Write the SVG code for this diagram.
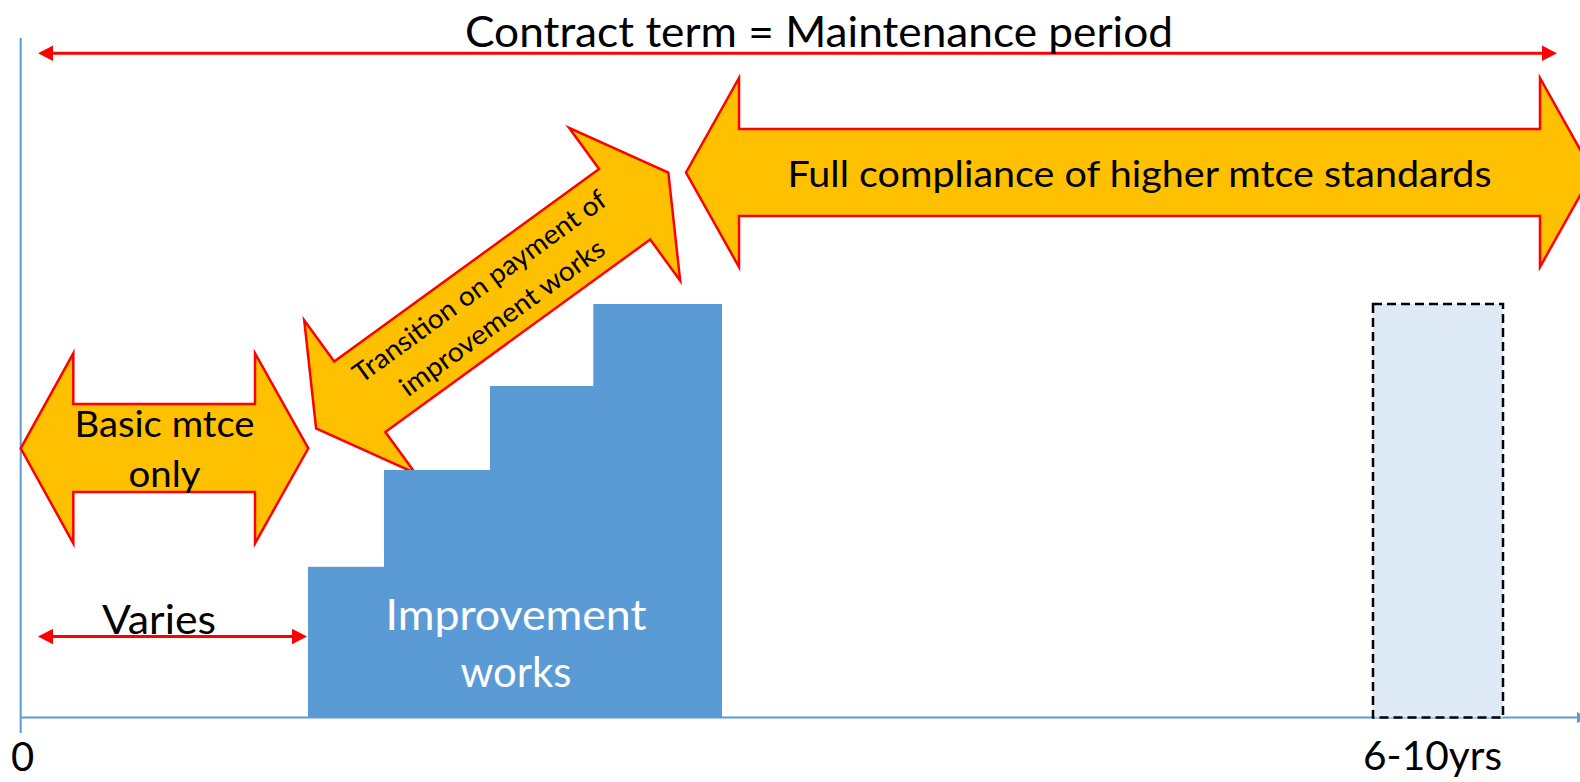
<svg xmlns="http://www.w3.org/2000/svg" width="1580" height="782" viewBox="0 0 1580 782">
<style>
  .txt { font-family: Lato, "Open Sans", "Liberation Sans", sans-serif; fill: #000000; }
  .wt { fill: #FFFFFF; }
  .fat { fill: #FFC000; stroke: #FF0000; stroke-width: 2.5; stroke-linejoin: miter; }
  .step { fill: #5B9BD5; }
  .red { stroke: #FF0000; stroke-width: 3; fill: none; }
  .axis { stroke: #5B9BD5; stroke-width: 2; fill: none; }
</style>
<defs>
  <marker id="redHead" viewBox="0 -8 15 16" markerWidth="15" markerHeight="16" refX="1" refY="0" orient="auto-start-reverse" markerUnits="userSpaceOnUse">
    <path d="M0,-7.7 L15,0 L0,7.7 z" fill="#FF0000"/>
  </marker>
  <marker id="blueHead" viewBox="0 -6 12 12" markerWidth="12" markerHeight="12" refX="1" refY="0" orient="auto" markerUnits="userSpaceOnUse">
    <path d="M0,-5.5 L12,0 L0,5.5 z" fill="#5B9BD5"/>
  </marker>
</defs>

<g id="connectors">
  <line class="axis" x1="20.7" y1="38" x2="20.7" y2="733" stroke-width="1.5"/>
  <line class="axis" x1="20" y1="717.5" x2="1578" y2="717.5" marker-end="url(#blueHead)"/>
  <line class="red" x1="52" y1="53.3" x2="1543" y2="53.3" marker-start="url(#redHead)" marker-end="url(#redHead)"/>
  <line class="red" x1="52" y1="636.5" x2="293" y2="636.5" marker-start="url(#redHead)" marker-end="url(#redHead)"/>
</g>

<g id="title">
  <text class="txt" x="819" y="46.7" font-size="43" text-anchor="middle" textLength="708" lengthAdjust="spacingAndGlyphs">Contract term = Maintenance period</text>
</g>

<g id="full-compliance">
  <polygon class="fat" points="686,172.5 739,78 739,129 1540,129 1540,78 1593,172.5 1540,267 1540,216 739,216 739,267"/>
  <text class="txt" x="1139.5" y="186.7" font-size="36" text-anchor="middle" textLength="704" lengthAdjust="spacingAndGlyphs">Full compliance of higher mtce standards</text>
</g>

<g id="transition">
  <g transform="translate(492.2,300.5) rotate(-36)">
    <polygon class="fat" points="-217.7,0 -163.7,-94.5 -163.7,-43.5 163.7,-43.5 163.7,-94.5 217.7,0 163.7,94.5 163.7,43.5 -163.7,43.5 -163.7,94.5"/>
    <text class="txt" x="-2" y="-9.5" font-size="27" text-anchor="middle" textLength="306" lengthAdjust="spacingAndGlyphs">Transition on payment of</text>
    <text class="txt" x="-2" y="29" font-size="27" text-anchor="middle" textLength="246" lengthAdjust="spacingAndGlyphs">improvement works</text>
  </g>
</g>

<g id="basic-mtce">
  <polygon class="fat" points="20.7,448.3 73.3,353.3 73.3,404 255,404 255,353.3 308.3,448.3 255,543.3 255,492 73.3,492 73.3,543.3"/>
  <text class="txt" x="164.5" y="436.7" font-size="36" text-anchor="middle" textLength="180" lengthAdjust="spacingAndGlyphs">Basic mtce</text>
  <text class="txt" x="164.5" y="486.7" font-size="36" text-anchor="middle" textLength="72" lengthAdjust="spacingAndGlyphs">only</text>
</g>

<g id="improvement-works">
  <polygon class="step" points="308,717.5 308,566.7 384,566.7 384,470 490,470 490,386 593.3,386 593.3,304 722,304 722,717.5"/>
  <text class="txt wt" x="516" y="630" font-size="42" text-anchor="middle" textLength="261" lengthAdjust="spacingAndGlyphs">Improvement</text>
  <text class="txt wt" x="516" y="686.7" font-size="42" text-anchor="middle" textLength="111" lengthAdjust="spacingAndGlyphs">works</text>
</g>

<g id="future-works">
  <rect x="1373" y="304" width="130" height="413.5" fill="#DEEBF7" stroke="#000000" stroke-width="2.5" stroke-dasharray="9,5"/>
</g>

<g id="labels">
  <text class="txt" x="159" y="634" font-size="40" text-anchor="middle" textLength="114" lengthAdjust="spacingAndGlyphs">Varies</text>
  <text class="txt" x="22.5" y="771" font-size="40" text-anchor="middle">0</text>
  <text class="txt" x="1432.5" y="770" font-size="40" text-anchor="middle" textLength="139" lengthAdjust="spacingAndGlyphs">6-10yrs</text>
</g>
</svg>
